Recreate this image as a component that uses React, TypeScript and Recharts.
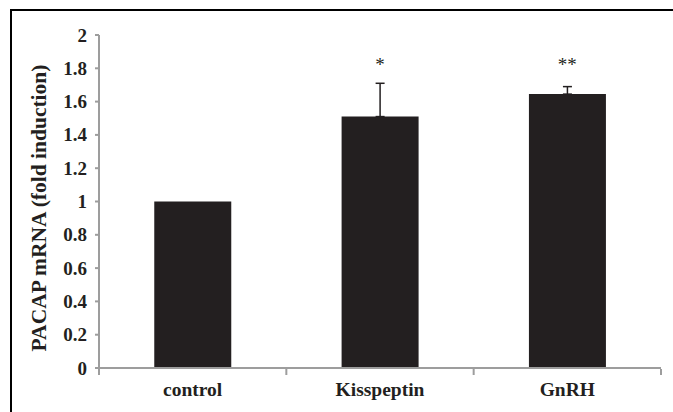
import React from 'react';
import { ComposedChart, Bar, Line, XAxis, YAxis, ErrorBar, LabelList } from 'recharts';

const categories = ['control', 'Kisspeptin', 'GnRH'];
const foldValues = [1.0, 1.51, 1.645];
const errorUp = [0, 0.2, 0.045];
const significance = ['', '*', '**'];
const starLevel = [null, 1.82, 1.82];
const yTicks = [0, 0.2, 0.4, 0.6, 0.8, 1, 1.2, 1.4, 1.6, 1.8, 2];

const data = categories.map((name, i) => ({
  name,
  value: foldValues[i],
  err: errorUp[i] ? [0, errorUp[i]] : null,
  starY: starLevel[i],
  sig: significance[i],
}));

const font = '"Liberation Serif", "Times New Roman", serif';
const axisGray = '#9d9d9d';
const ink = '#231f20';

const MARGIN = { top: 35, right: 12, left: 39, bottom: 14 };
const Y_WIDTH = 60;
const CHART_W = 673;
const CHART_H = 412;
const bandWidth = (CHART_W - MARGIN.left - MARGIN.right - Y_WIDTH) / categories.length;

// excel-style ticks between the categories
const CategoryTick = (props: any) => {
  const { x, y, payload, index } = props;
  const left = x - bandWidth / 2;
  const right = x + bandWidth / 2;
  return (
    <g>
      <line x1={left} y1={y - 1} x2={left} y2={y + 5} stroke={axisGray} strokeWidth={2} />
      {index === categories.length - 1 && (
        <line x1={right} y1={y - 1} x2={right} y2={y + 5} stroke={axisGray} strokeWidth={2} />
      )}
      <text
        x={x}
        y={y + 19}
        textAnchor="middle"
        dominantBaseline="central"
        fontFamily={font}
        fontSize={19.5}
        fontWeight="bold"
        fill={ink}
      >
        {payload.value}
      </text>
    </g>
  );
};

const ValueTick = (props: any) => {
  const { x, y, payload } = props;
  return (
    <text
      x={x}
      y={y}
      textAnchor="end"
      dominantBaseline="central"
      fontFamily={font}
      fontSize={19}
      fontWeight="bold"
      fill={ink}
    >
      {payload.value}
    </text>
  );
};

export default function App() {
  return (
    <div style={{ position: 'absolute', left: 0, top: 0, width: CHART_W, height: CHART_H, background: '#fff' }}>
      <div
        style={{
          position: 'absolute',
          left: 10,
          top: 9,
          right: 0,
          bottom: 0,
          borderTop: '2px solid #000',
          borderLeft: '2px solid #000',
        }}
      />
      <div style={{ position: 'absolute', left: 0, top: 0 }}>
        <ComposedChart
          width={CHART_W}
          height={CHART_H}
          data={data}
          margin={MARGIN}
          barCategoryGap="29.5%"
        >
          <XAxis
            dataKey="name"
            height={30}
            axisLine={{ stroke: axisGray, strokeWidth: 2 }}
            tickLine={false}
            tickSize={0}
            tick={<CategoryTick />}
          />
          <YAxis
            width={Y_WIDTH}
            domain={[0, 2]}
            ticks={yTicks}
            interval={0}
            axisLine={{ stroke: axisGray, strokeWidth: 2 }}
            tickLine={{ stroke: axisGray, strokeWidth: 2 }}
            tickSize={4}
            tickMargin={8}
            tick={<ValueTick />}
            label={() => (
              <text
                x={39}
                y={208}
                transform="rotate(-90 39 208)"
                textAnchor="middle"
                dominantBaseline="central"
                fontFamily={font}
                fontSize={21.5}
                fontWeight="bold"
                fill={ink}
              >
                PACAP mRNA (fold induction)
              </text>
            )}
          />
          <Bar dataKey="value" fill={ink} isAnimationActive={false}>
            <ErrorBar dataKey="err" direction="y" width={4.5} stroke={ink} strokeWidth={1.5} />
          </Bar>
          <Line
            dataKey="starY"
            stroke="none"
            dot={false}
            activeDot={false}
            isAnimationActive={false}
          >
            <LabelList
              dataKey="sig"
              position="center"
              content={(p: any) =>
                p.value ? (
                  <text
                    x={p.x}
                    y={p.y}
                    textAnchor="middle"
                    dominantBaseline="central"
                    fontFamily={font}
                    fontSize={19}
                    fill={ink}
                  >
                    {p.value}
                  </text>
                ) : null
              }
            />
          </Line>
        </ComposedChart>
      </div>
    </div>
  );
}
